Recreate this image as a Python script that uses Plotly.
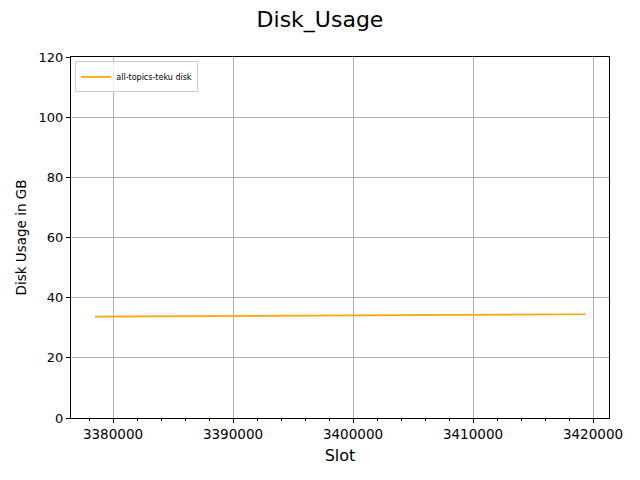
import plotly.graph_objects as go

slots = [3378500, 3381000, 3383500, 3386000, 3388500, 3391000, 3393500, 3396000,
         3398500, 3401000, 3403500, 3405000, 3406000, 3408500, 3411000, 3413500,
         3416000, 3418500, 3419400]
disk_gb = [33.7, 33.75, 33.8, 33.85, 33.9, 33.95, 34.02, 34.08,
           34.12, 34.18, 34.25, 34.32, 34.28, 34.3, 34.35, 34.4,
           34.42, 34.47, 34.48]

x_ticks = [3380000, 3390000, 3400000, 3410000, 3420000]
y_ticks = [0, 20, 40, 60, 80, 100, 120]

font = "DejaVu Sans"
fig = go.Figure()
fig.add_trace(go.Scatter(x=slots, y=disk_gb, mode="lines", name="all-topics-teku disk",
                         line=dict(color="#FFA500", width=1.6)))

fig.update_layout(
    width=640, height=480,
    margin=dict(l=63, r=39, t=49, b=70),
    paper_bgcolor="white", plot_bgcolor="white",
    font=dict(family=font, color="black", size=13),
    title=dict(text="Disk_Usage", x=0.4875, xanchor="center", y=0.977, yanchor="middle",
               font=dict(size=22, family=font)),
    showlegend=True,
    legend=dict(x=0.008, y=0.988, xanchor="left", yanchor="top",
                bgcolor="rgba(255,255,255,0.8)", bordercolor="#cccccc", borderwidth=1,
                font=dict(size=8, family=font), tracegroupgap=0,
                itemwidth=30),
)
fig.update_xaxes(range=[3376500, 3421333], tickvals=x_ticks,
                 ticktext=[str(v) for v in x_ticks],
                 showline=True, linecolor="black", linewidth=1, mirror=True,
                 ticks="outside", ticklen=4, tickcolor="black",
                 showgrid=True, gridcolor="#b0b0b0", gridwidth=1,
                 zeroline=False, tickfont=dict(size=13.5),
                 minor=dict(dtick=2000, tick0=3380000, ticks="outside", ticklen=2,
                            tickcolor="black", showgrid=False),
                 title=dict(text="Slot", font=dict(size=16), standoff=8))
fig.update_yaxes(range=[0, 120], tickvals=y_ticks,
                 showline=True, linecolor="black", linewidth=1, mirror=True,
                 ticks="outside", ticklen=4, tickcolor="black",
                 showgrid=True, gridcolor="#b0b0b0", gridwidth=1,
                 zeroline=False, tickfont=dict(size=13),
                 title=dict(text="Disk Usage in GB", font=dict(size=13.5), standoff=8))

fig.write_html("out.html")
